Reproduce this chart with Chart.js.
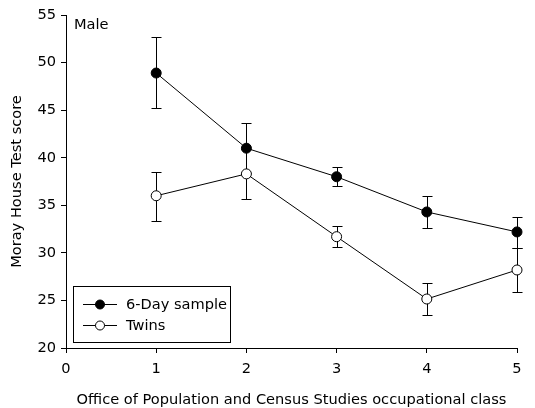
<!DOCTYPE html>
<html>
<head>
<meta charset="utf-8">
<script src="https://cdn.jsdelivr.net/npm/chart.js@4"></script>
<style>
  html, body { margin: 0; padding: 0; background: #fff; }
  #wrap { width: 535px; height: 408px; }
</style>
</head>
<body>
<div id="wrap"><canvas id="c" width="535" height="408"></canvas></div>
<script>
// occupational class on x, test score on y
const classes = [1, 2, 3, 4, 5];
const sixDay = [48.9, 41.0, 38.0, 34.3, 32.2];
const sixDayLo = [45.2, 38.4, 37.0, 32.6, 30.5];
const sixDayHi = [52.7, 43.6, 39.0, 36.0, 33.8];
const twins = [36.0, 38.3, 31.7, 25.15, 28.2];
const twinsLo = [33.3, 35.7, 30.6, 23.5, 25.9];
const twinsHi = [38.5, 40.9, 32.8, 26.8, 30.5];

const FONT = '"DejaVu Sans", sans-serif';
const FSIZE = 14.6;

function pts(vals) {
  return classes.map((c, i) => ({ x: c, y: vals[i] }));
}

// error bars, drawn under the lines and markers
const errorBars = {
  id: 'errorBars',
  beforeDatasetsDraw(chart) {
    const ctx = chart.ctx;
    const ys = chart.scales.y;
    const ranges = [[sixDayLo, sixDayHi], [twinsLo, twinsHi]];
    ctx.save();
    ctx.strokeStyle = '#000';
    ctx.lineWidth = 1;
    chart.data.datasets.forEach((ds, i) => {
      const meta = chart.getDatasetMeta(i);
      meta.data.forEach((p, j) => {
        const top = Math.round(ys.getPixelForValue(ranges[i][1][j])) + 0.5;
        const bot = Math.round(ys.getPixelForValue(ranges[i][0][j])) + 0.5;
        const x = Math.round(p.x) + 0.5;
        ctx.beginPath();
        ctx.moveTo(x, top); ctx.lineTo(x, bot);
        ctx.moveTo(x - 5, top); ctx.lineTo(x + 5, top);
        ctx.moveTo(x - 5, bot); ctx.lineTo(x + 5, bot);
        ctx.stroke();
      });
    });
    ctx.restore();
  }
};

// boxed legend inside the plot plus the "Male" panel label
const boxLegend = {
  id: 'boxLegend',
  afterDraw(chart) {
    const ctx = chart.ctx;
    ctx.save();
    ctx.font = FSIZE + 'px ' + FONT;
    ctx.fillStyle = '#000';
    ctx.textBaseline = 'middle';
    ctx.fillText('Male', 74, 25);

    ctx.strokeStyle = '#000';
    ctx.lineWidth = 1;
    ctx.strokeRect(73.5, 286.5, 157, 56);
    chart.data.datasets.forEach((ds, i) => {
      const y = 304 + i * 21;
      ctx.beginPath();
      ctx.moveTo(83, y + 0.5); ctx.lineTo(117, y + 0.5);
      ctx.stroke();
      ctx.beginPath();
      ctx.arc(100, y + 0.5, 4.5, 0, Math.PI * 2);
      ctx.fillStyle = ds.pointBackgroundColor;
      ctx.fill();
      ctx.stroke();
      ctx.fillStyle = '#000';
      ctx.fillText(ds.label, 126, y + 1);
    });
    ctx.restore();
  }
};

new Chart(document.getElementById('c'), {
  type: 'line',
  data: {
    datasets: [
      {
        label: '6-Day sample',
        data: pts(sixDay),
        borderColor: '#000',
        borderWidth: 1,
        pointBackgroundColor: '#000',
        pointBorderColor: '#000',
        pointRadius: 5,
        pointBorderWidth: 1,
        clip: false
      },
      {
        label: 'Twins',
        data: pts(twins),
        borderColor: '#000',
        borderWidth: 1,
        pointBackgroundColor: '#fff',
        pointBorderColor: '#000',
        pointRadius: 5,
        pointBorderWidth: 1,
        clip: false
      }
    ]
  },
  options: {
    responsive: false,
    animation: false,
    layout: { padding: { left: 0, right: 18, top: 15, bottom: 0 } },
    plugins: {
      legend: { display: false },
      tooltip: { enabled: false }
    },
    scales: {
      x: {
        type: 'linear',
        min: 0, max: 5,
        afterFit: s => { s.height = 60; },
        grid: { drawOnChartArea: false, drawTicks: true, tickLength: 5, color: '#000' },
        border: { color: '#000', width: 1 },
        ticks: { stepSize: 1, color: '#000', padding: 7, font: { family: FONT, size: FSIZE } },
        title: { display: true, text: 'Office of Population and Census Studies occupational class', color: '#000', font: { family: FONT, size: FSIZE }, padding: { top: 0, bottom: -1 } }
      },
      y: {
        min: 20, max: 55,
        afterFit: s => { s.width = 66; },
        grid: { drawOnChartArea: false, drawTicks: true, tickLength: 5, color: '#000' },
        border: { color: '#000', width: 1 },
        ticks: { stepSize: 5, color: '#000', padding: 5, font: { family: FONT, size: FSIZE } },
        title: { display: true, text: 'Moray House Test score', color: '#000', font: { family: FONT, size: FSIZE }, padding: { top: 8, bottom: 0 } }
      }
    }
  },
  plugins: [errorBars, boxLegend]
});
</script>
</body>
</html>
